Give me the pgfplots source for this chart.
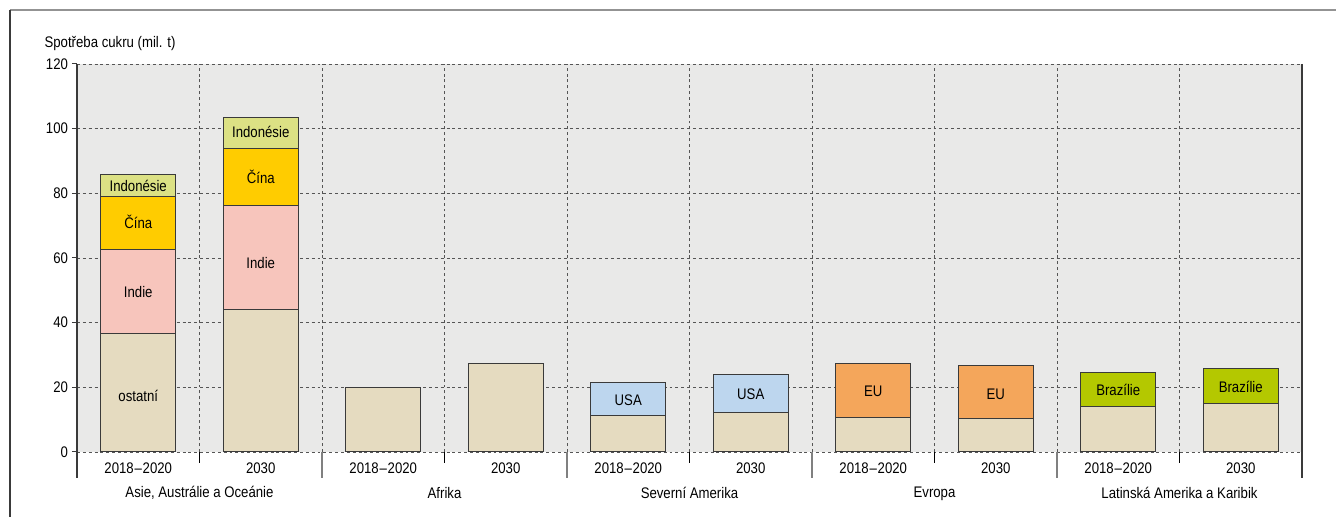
\documentclass[border=0pt]{standalone}
\usepackage{pgfplots}
\pgfplotsset{compat=1.18}
\usepackage{pgfplotstable}
\usepackage{fontspec}
\setmainfont{Liberation Sans}[FakeStretch=0.86]
\definecolor{bgc}{HTML}{E9E9E8}
\definecolor{beige}{HTML}{E5DBC0}
\definecolor{pinkc}{HTML}{F7C5BC}
\definecolor{goldc}{HTML}{FFCC00}
\definecolor{indoc}{HTML}{DCE184}
\definecolor{usac}{HTML}{BDD6EE}
\definecolor{euc}{HTML}{F4A65B}
\definecolor{brac}{HTML}{B4C800}
\definecolor{edgec}{HTML}{3A3A3A}
\definecolor{gridc}{HTML}{555555}

\pgfplotstableread{
x ostatni indie cina indo usa eu braz
0 36.5 26.2 16.2 7.0 0 0 0
1 44.2 31.9 17.9 9.6 0 0 0
2 20.0 0 0 0 0 0 0
3 27.5 0 0 0 0 0 0
4 11.3 0 0 0 10.3 0 0
5 12.3 0 0 0 11.6 0 0
6 10.6 0 0 0 0 16.8 0
7 10.4 0 0 0 0 16.3 0
8 14.2 0 0 0 0 0 10.5
9 15.0 0 0 0 0 0 10.8
}\sugar

\newcommand{\yr}{2018\kern0.6pt–\kern0.6pt2020}

\begin{document}
\fontsize{11.5}{13}\selectfont
\begin{tikzpicture}
\useasboundingbox (-57.75pt,-48.75pt) rectangle (944.25pt,339pt);
\draw[color=gray!85, line width=1.1pt] (-50.25pt,331.5pt) -- (944.25pt,331.5pt);
\draw[color=edgec, line width=0.9pt] (-50.25pt,331.5pt) -- (-50.25pt,-48.75pt);
\node[anchor=west, inner sep=0pt] at (-24.5pt,306pt) {Spotřeba cukru (mil. t)};
\begin{axis}[
  at={(0,0)}, anchor=south west, scale only axis,
  width=918.75pt, height=291pt,
  xmin=-0.5, xmax=9.5, ymin=0, ymax=120,
  ybar stacked, bar width=56.25pt,
  reverse stacked plots=false,
  ytick={0,20,...,120},
  ytick pos=left,
  xtick={0,...,9},
  xticklabels={\yr,2030,\yr,2030,\yr,2030,\yr,2030,\yr,2030},
  minor xtick={0.5,1.5,...,8.5},
  xminorgrids=true, ymajorgrids=true,
  major grid style={color=gridc, line width=0.6pt, dash pattern=on 2.2pt off 2.2pt},
  minor grid style={color=gridc, line width=0.6pt, dash pattern=on 2.2pt off 2.2pt},
  axis line style={draw=none},
  axis background/.style={fill=bgc},
  x tick style={draw=none},
  y tick style={draw=edgec, line width=0.75pt},
  major tick length=3.75pt,
  ytick align=outside,
  yticklabel style={xshift=1pt},
  xticklabel style={anchor=center, yshift=-12pt},
  /pgf/number format/assume math mode=true,
  clip=false,
  every axis plot/.append style={draw=edgec, line width=0.75pt},
]
\addplot[fill=beige] table[x=x,y=ostatni]{\sugar};
\addplot[fill=pinkc] table[x=x,y=indie]{\sugar};
\addplot[fill=goldc] table[x=x,y=cina]{\sugar};
\addplot[fill=indoc] table[x=x,y=indo]{\sugar};
\addplot[fill=usac] table[x=x,y=usa]{\sugar};
\addplot[fill=euc] table[x=x,y=eu]{\sugar};
\addplot[fill=brac] table[x=x,y=braz]{\sugar};

\coordinate (L0) at (axis cs:-0.5,0);
\coordinate (T0) at (axis cs:-0.5,120);
\coordinate (L10) at (axis cs:9.5,0);
\coordinate (T10) at (axis cs:9.5,120);
\coordinate (S1) at (axis cs:1.5,0);
\coordinate (S2) at (axis cs:3.5,0);
\coordinate (S3) at (axis cs:5.5,0);
\coordinate (S4) at (axis cs:7.5,0);
\coordinate (G1) at (axis cs:0.5,0);
\coordinate (G2) at (axis cs:2.5,0);
\coordinate (G3) at (axis cs:4.5,0);
\coordinate (G4) at (axis cs:6.5,0);
\coordinate (G5) at (axis cs:8.5,0);
\coordinate (a1) at (axis cs:0,17.4);
\coordinate (a2) at (axis cs:0,49.4);
\coordinate (a3) at (axis cs:0,71.3);
\coordinate (a4) at (axis cs:0,82.4);
\coordinate (b2) at (axis cs:1,58.3);
\coordinate (b3) at (axis cs:1,85.0);
\coordinate (b4) at (axis cs:1,98.9);
\coordinate (u1) at (axis cs:4,16.1);
\coordinate (u2) at (axis cs:5,17.8);
\coordinate (e1) at (axis cs:6,18.9);
\coordinate (e2) at (axis cs:7,17.7);
\coordinate (z1) at (axis cs:8,19.3);
\coordinate (z2) at (axis cs:9,20.0);
\end{axis}
% axis lines and separators
\draw[color=edgec, line width=1pt] (T0) -- ([yshift=-19.5pt]L0);
\draw[color=edgec, line width=1pt] (T10) -- ([yshift=-19.5pt]L10);
\foreach \s in {S1,S2,S3,S4} {
  \draw[color=gray, line width=0.9pt] (\s) -- ([yshift=-19.5pt]\s);
}
\foreach \s in {G1,G2,G3,G4,G5} {
  \draw[color=black, line width=0.75pt] (\s) -- ([yshift=-8pt]\s);
}
% group labels
\node at ([yshift=-31pt]G1) {Asie, Austrálie a Oceánie};
\node at ([yshift=-31pt]G2) {Afrika};
\node at ([yshift=-31pt]G3) {Severní Amerika};
\node at ([yshift=-31pt]G4) {Evropa};
\node at ([yshift=-31pt]G5) {Latinská Amerika a Karibik};
% segment labels
\node at (a1) {ostatní};
\node at (a2) {Indie};
\node at (a3) {Čína};
\node at (a4) {Indonésie};
\node at (b2) {Indie};
\node at (b3) {Čína};
\node at (b4) {Indonésie};
\node at (u1) {USA};
\node at (u2) {USA};
\node at (e1) {EU};
\node at (e2) {EU};
\node at (z1) {Brazílie};
\node at (z2) {Brazílie};
\end{tikzpicture}
\end{document}
